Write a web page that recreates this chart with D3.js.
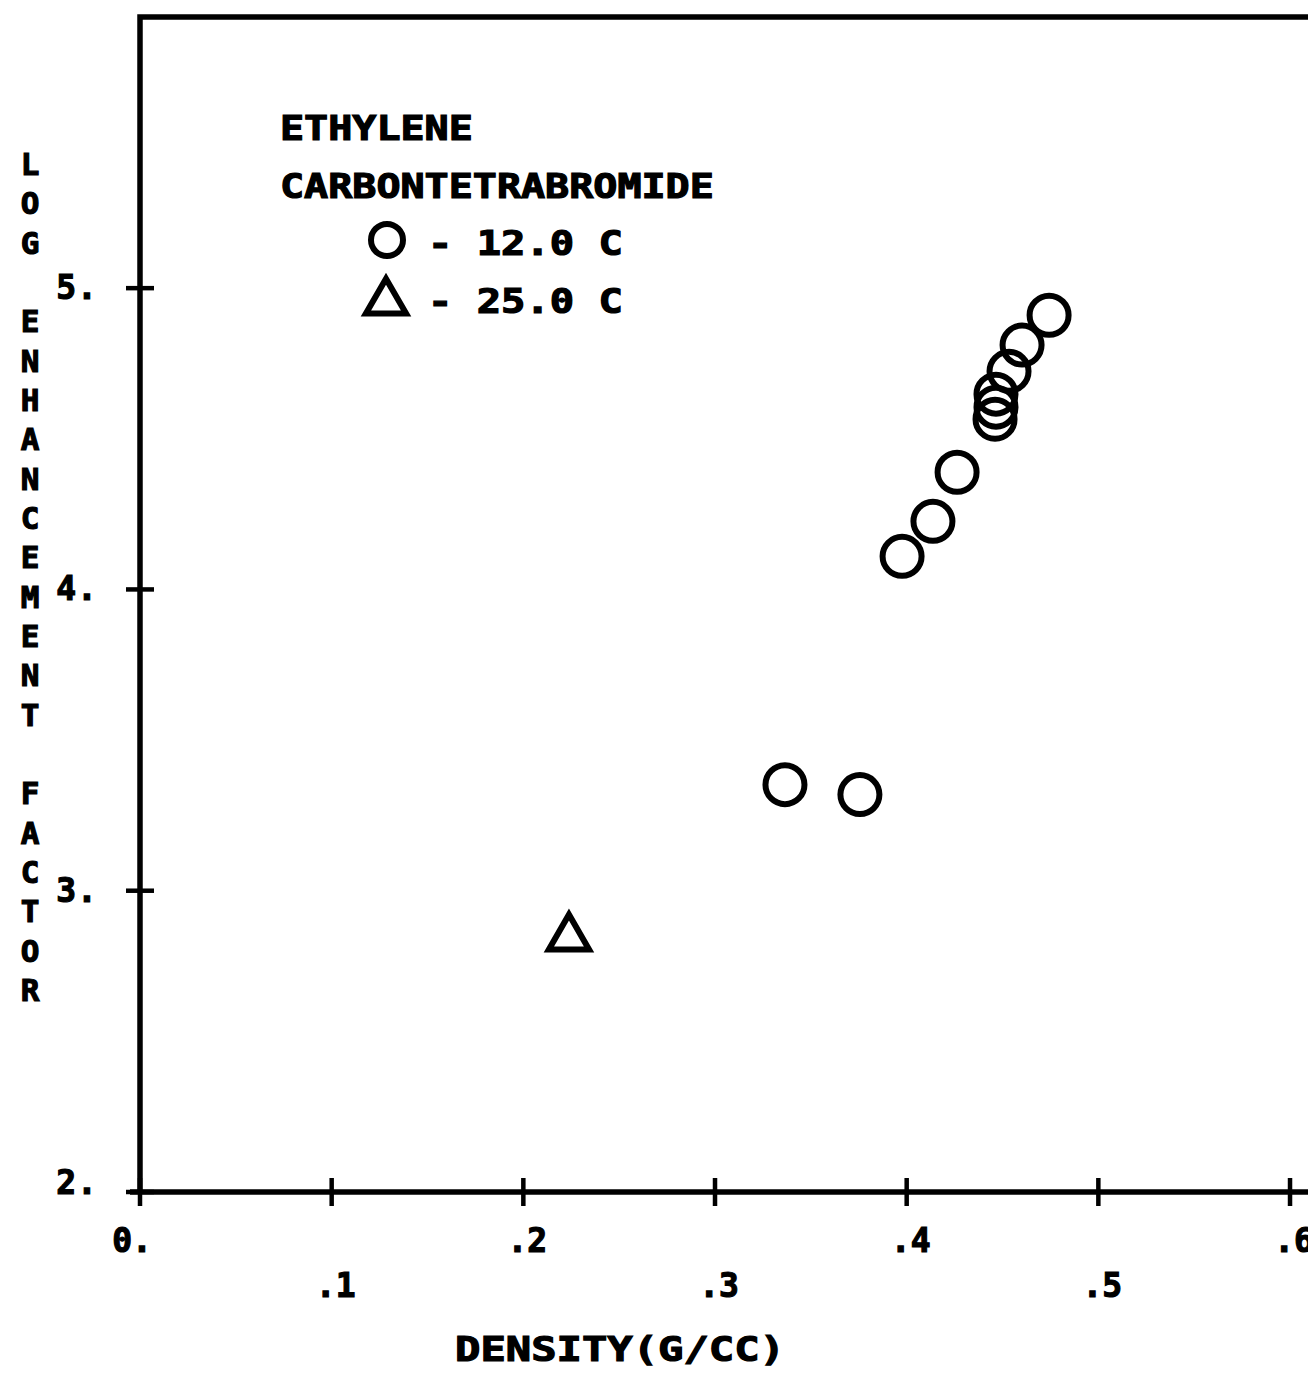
<!DOCTYPE html>
<meta charset="utf-8">
<title>Log enhancement factor vs density</title>
<style>
  body { margin: 0; background: #fff; }
  text { font-family: "DejaVu Sans Mono", monospace; font-weight: bold; fill: #000; stroke: #000; stroke-width: 1.2px; }
  .axisline { stroke: #000; stroke-width: 5.5px; fill: none; }
  .tick { stroke: #000; stroke-width: 4.5px; }
  .pt { fill: none; stroke: #000; stroke-width: 6px; }
</style>
<body>
<script src="https://cdn.jsdelivr.net/npm/d3@7"></script>
<script>

var width = 1308,
    height = 1376;

// data
var circleDensity = [0.3365, 0.3756, 0.3976, 0.4137, 0.4263, 0.4461, 0.4466, 0.4466, 0.4534, 0.4602, 0.4743];
var circleLogEF   = [3.352, 3.319, 4.110, 4.226, 4.389, 4.565, 4.605, 4.648, 4.724, 4.811, 4.910];
var triDensity = [0.2238];
var triLogEF   = [2.857];

var xTicks = [0, 0.1, 0.2, 0.3, 0.4, 0.5, 0.6];
var xTickLabels = ["0.", ".1", ".2", ".3", ".4", ".5", ".6"];
var yTicks = [2, 3, 4, 5];
var yTickLabels = ["2.", "3.", "4.", "5."];

var legendTitle = ["ETHYLENE", "CARBONTETRABROMIDE"];
var legendLabels = ["- 12.0 C", "- 25.0 C"];
var xTitle = "DENSITY(G/CC)";
var yTitle = "LOG ENHANCEMENT FACTOR";

var x = d3.scaleLinear().domain([0, 0.61]).range([140, 140 + 0.61 * 1916.7]);
var y = d3.scaleLinear().domain([2, 5.9]).range([1192, 17]);

var svg = d3.select("body").append("svg")
    .attr("width", width)
    .attr("height", height);

// frame: left, top, bottom (right side runs off the page)
svg.append("path")
    .attr("class", "axisline")
    .attr("d", "M" + x(0) + "," + y(2) + "V" + y(5.9) + "H" + width);
svg.append("line")
    .attr("class", "axisline")
    .attr("x1", x(0) - 10).attr("x2", width)
    .attr("y1", y(2)).attr("y2", y(2));

// y ticks (cross the axis)
svg.selectAll(".ytick").data(yTicks).enter().append("line")
    .attr("class", "tick")
    .attr("x1", x(0) - 14).attr("x2", x(0) + 14)
    .attr("y1", function(d) { return y(d); })
    .attr("y2", function(d) { return y(d); });

svg.selectAll(".ylab").data(yTicks).enter().append("text")
    .attr("x", 98)
    .attr("y", function(d, i) { return y(d) + (i == 0 ? 2 : 11); })
    .attr("text-anchor", "end")
    .style("font-size", "33px")
    .style("letter-spacing", "1px")
    .text(function(d, i) { return yTickLabels[i]; });

// x ticks
svg.selectAll(".xtick").data(xTicks).enter().append("line")
    .attr("class", "tick")
    .attr("x1", function(d) { return x(d); })
    .attr("x2", function(d) { return x(d); })
    .attr("y1", y(2) - 14).attr("y2", y(2) + 14);

svg.selectAll(".xlab").data(xTicks).enter().append("text")
    .attr("x", function(d, i) { return x(d) + (i == 0 ? -8 : 4); })
    .attr("y", function(d, i) { return i % 2 == 0 ? 1252 : 1297; })
    .attr("text-anchor", "middle")
    .style("font-size", "33px")
    .text(function(d, i) { return xTickLabels[i]; });

// axis titles
svg.append("text")
    .attr("x", 455)
    .attr("y", 1361)
    .attr("textLength", 330)
    .attr("lengthAdjust", "spacingAndGlyphs")
    .style("font-size", "34px")
    .text(xTitle);

svg.selectAll(".ychar").data(yTitle.split("")).enter().append("text")
    .attr("x", 30)
    .attr("y", function(d, i) { return 175 + i * 39.33; })
    .attr("text-anchor", "middle")
    .style("font-size", "31px")
    .text(function(d) { return d; });

// legend
svg.selectAll(".legtitle").data(legendTitle).enter().append("text")
    .attr("x", 280)
    .attr("y", function(d, i) { return 140 + i * 58; })
    .attr("textLength", function(d) { return d.length * 24.1; })
    .attr("lengthAdjust", "spacingAndGlyphs")
    .style("font-size", "34px")
    .text(function(d) { return d; });

svg.selectAll(".leglab").data(legendLabels).enter().append("text")
    .attr("x", 428)
    .attr("y", function(d, i) { return 255 + i * 58; })
    .attr("textLength", 195)
    .attr("lengthAdjust", "spacingAndGlyphs")
    .style("font-size", "34px")
    .text(function(d) { return d; });

svg.append("circle")
    .attr("class", "pt")
    .attr("cx", 387).attr("cy", 240).attr("r", 16);

var triSize = 700;
svg.append("path")
    .attr("class", "pt")
    .attr("d", d3.symbol().type(d3.symbolTriangle).size(triSize)())
    .attr("transform", "translate(386,302)");

// data points
var circles = circleDensity.map(function(d, i) { return {x: d, y: circleLogEF[i]}; });
var tris = triDensity.map(function(d, i) { return {x: d, y: triLogEF[i]}; });

svg.selectAll(".c").data(circles).enter().append("circle")
    .attr("class", "pt")
    .attr("cx", function(d) { return x(d.x); })
    .attr("cy", function(d) { return y(d.y); })
    .attr("r", 19.5);

svg.selectAll(".t").data(tris).enter().append("path")
    .attr("class", "pt")
    .attr("d", d3.symbol().type(d3.symbolTriangle).size(triSize)())
    .attr("transform", function(d) { return "translate(" + x(d.x) + "," + (y(d.y) + 4) + ")"; });

</script>
</body>
